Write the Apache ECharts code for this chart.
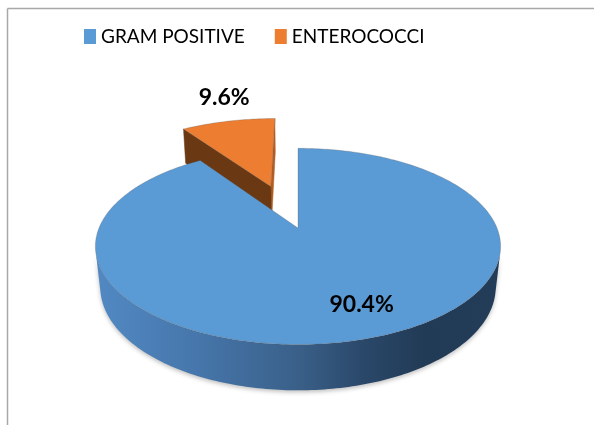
<!DOCTYPE html>
<html>
<head>
<meta charset="utf-8">
<script src="https://cdn.jsdelivr.net/npm/echarts@6/dist/echarts.min.js"></script>
<style>
  html, body { margin: 0; padding: 0; background: #ffffff; }
  #chart { width: 594px; height: 425px; }
</style>
</head>
<body>
<div id="chart"></div>
<script>
// Share of isolates, percent
const categories = ['GRAM POSITIVE', 'ENTEROCOCCI'];
const values = [90.4, 9.6];
const valueLabels = ['90.4%', '9.6%'];

// Look of each slice: face colours, wall shading, pull-out distance and label placement
const sliceStyles = {
  'GRAM POSITIVE': {
    top: '#5b9bd5', cutStart: '#3c6a98', cutEnd: '#4a80b8',
    wall: [
      { offset: 0, color: '#5289c3' }, { offset: 0.25, color: '#4676ab' },
      { offset: 0.5, color: '#3a6089' }, { offset: 0.66, color: '#2a486a' },
      { offset: 0.82, color: '#213a55' }, { offset: 1, color: '#233c58' }
    ],
    explode: 0, label: { r: 0.73, dx: 14, dy: 1 }, z: 2
  },
  'ENTEROCOCCI': {
    top: '#ed7d31', cutStart: '#6a3813', cutEnd: '#b25d22',
    wall: [{ offset: 0, color: '#b35e22' }, { offset: 1, color: '#7a3e15' }],
    explode: 0.5, label: { r: 1.0, dx: -4, dy: -24 }, z: 1
  }
};

// Perspective camera looking down on a unit-radius disc
const view = {
  cx: 298, cy: 228,          // screen position of the disc centre
  scale: 199,                // pixels per radius at the centre depth
  dist: 4.686,               // camera distance, in radii
  tilt: 28.4 * Math.PI / 180,
  thickness: 0.2345          // disc height, in radii
};
const sinT = Math.sin(view.tilt), cosT = Math.cos(view.tilt);
const focal = view.scale * view.dist;

function project(X, Y, Z) {
  const d = view.dist - Y * sinT + Z * cosT;
  return [view.cx + focal * X / d, view.cy - focal * (Y * cosT + Z * sinT) / d];
}

const total = values.reduce((s, v) => s + v, 0);
const startAngles = [];
values.reduce((acc, v, i) => { startAngles[i] = acc; return acc + 360 * v / total; }, 0);

const rad = (deg) => deg * Math.PI / 180;
const labelFont = { fontFamily: 'Lato', fontWeight: 'bold', fontSize: 23, fill: '#000000' };

function makeRenderer(i) {
  const name = categories[i];
  const st = sliceStyles[name];
  return function (params, api) {
    const v = api.value(0);
    const a1 = startAngles[i];
    const a2 = a1 + 360 * v / total;
    const mid = rad((a1 + a2) / 2);
    const ox = st.explode * Math.sin(mid);
    const oz = st.explode * Math.cos(mid);
    const H = view.thickness;
    const rimPt = (deg, Y) => project(ox + Math.sin(rad(deg)), Y, oz + Math.cos(rad(deg)));
    const camX = 0, camZ = -view.dist * cosT;

    const steps = Math.max(2, Math.ceil(a2 - a1));
    const angles = [];
    for (let k = 0; k <= steps; k++) angles.push(a1 + (a2 - a1) * k / steps);

    const children = [];

    // Outer wall: only the stretches that face the camera
    const facing = (deg) => {
      const t = rad(deg);
      const px = ox + Math.sin(t), pz = oz + Math.cos(t);
      return Math.sin(t) * (camX - px) + Math.cos(t) * (camZ - pz) > 0;
    };
    let run = [];
    const flush = () => {
      if (run.length > 1) {
        const pts = run.map(d => rimPt(d, 0)).concat(run.slice().reverse().map(d => rimPt(d, -H)));
        children.push({
          type: 'polygon', shape: { points: pts },
          style: {
            fill: { type: 'linear', x: 0, y: 0, x2: 1, y2: 0, colorStops: st.wall },
            stroke: null,
            shadowColor: 'rgba(0,0,0,0.25)', shadowBlur: 4, shadowOffsetY: 2
          }
        });
      }
      run = [];
    };
    angles.forEach(d => { if (facing(d)) run.push(d); else flush(); });
    flush();

    // Radial cut faces
    const vTop = project(ox, 0, oz), vBot = project(ox, -H, oz);
    const cutFace = (deg, color) => ({
      type: 'polygon',
      shape: { points: [vTop, rimPt(deg, 0), rimPt(deg, -H), vBot] },
      style: { fill: color, stroke: color, lineWidth: 0.5 }
    });
    const t1 = rad(a1), t2 = rad(a2);
    const dStart = ox * Math.cos(t1) - Math.sin(t1) * (view.dist * cosT + oz);
    const dEnd = -ox * Math.cos(t2) + Math.sin(t2) * (view.dist * cosT + oz);
    if (dEnd > 1e-6) children.push(cutFace(a2, st.cutEnd));
    if (dStart > 1e-6) children.push(cutFace(a1, st.cutStart));

    // Top face
    children.push({
      type: 'polygon',
      shape: { points: [vTop].concat(angles.map(d => rimPt(d, 0))) },
      style: { fill: st.top, stroke: 'rgba(90,90,90,0.35)', lineWidth: 0.8, lineJoin: 'round' }
    });

    // Value label
    const lp = project(ox + st.label.r * Math.sin(mid), 0, oz + st.label.r * Math.cos(mid));
    children.push({
      type: 'text',
      x: lp[0] + st.label.dx, y: lp[1] + st.label.dy,
      style: Object.assign({ text: valueLabels[i], align: 'center', verticalAlign: 'middle' }, labelFont)
    });

    return { type: 'group', children };
  };
}

const chart = echarts.init(document.getElementById('chart'), null, { renderer: 'canvas' });
chart.setOption({
  animation: false,
  backgroundColor: '#ffffff',
  legend: {
    data: categories,
    left: 84, top: 27, padding: 0,
    icon: 'rect', itemWidth: 12, itemHeight: 15, itemGap: 30,
    selectedMode: false,
    textStyle: { fontFamily: 'Lato', fontSize: 19, color: '#000000' }
  },
  graphic: [
    { type: 'line', shape: { x1: 7.5, y1: 8.5, x2: 594, y2: 8.5 }, style: { stroke: '#a8a8a8', lineWidth: 1.5 }, silent: true },
    { type: 'line', shape: { x1: 7.5, y1: 8.5, x2: 7.5, y2: 425 }, style: { stroke: '#a8a8a8', lineWidth: 1.5 }, silent: true }
  ],
  series: categories.map((name, i) => ({
    type: 'custom',
    name,
    coordinateSystem: 'none',
    z: sliceStyles[name].z,
    silent: true,
    itemStyle: { color: sliceStyles[name].top },
    data: [values[i]],
    renderItem: makeRenderer(i)
  }))
});
</script>
</body>
</html>
